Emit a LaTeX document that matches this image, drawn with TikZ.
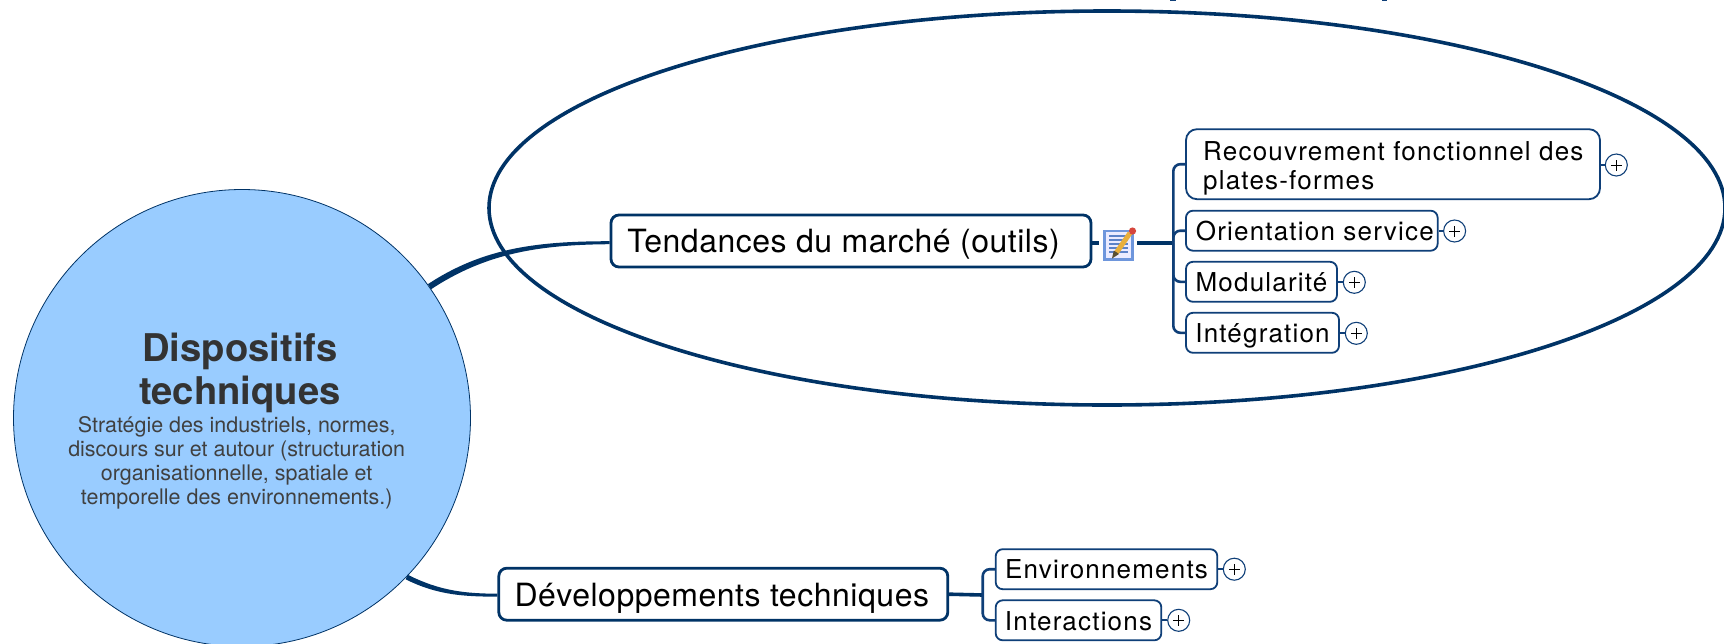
\documentclass[tikz,border=0pt]{standalone}
\usepackage{fontspec}
\setmainfont{TeX Gyre Heros}
\newfontfamily\kidfont[LetterSpace=4.6]{TeX Gyre Heros}
\newfontfamily\midfont[LetterSpace=1.6]{TeX Gyre Heros}
\usetikzlibrary{calc}
\definecolor{navy}{HTML}{003366}
\definecolor{kidline}{HTML}{0F3F78}
\definecolor{hubfill}{HTML}{99CCFF}
\definecolor{hubtext}{HTML}{333333}
\definecolor{subtext}{HTML}{404040}
\tikzset{
  hubnode/.style={circle,draw=navy,line width=0.8pt,fill=hubfill,minimum size=457pt,inner sep=0pt},
  midbox/.style={rectangle,rounded corners=8pt,draw=navy,line width=2.8pt,fill=white,inner sep=0pt,font=\midfont\fontsize{32}{36}\selectfont,text=black,text depth=0pt},
  kidbox/.style={rectangle,rounded corners=7pt,draw=kidline,line width=1.8pt,fill=white,inner sep=0pt,font=\kidfont\fontsize{26}{29.3}\selectfont,text=black,text depth=0pt},
  branch/.style={draw=kidline,line width=2.6pt,rounded corners=7pt},
  trunk/.style={draw=navy,line width=3.6pt},
  stub/.style={draw=kidline,line width=2pt},
  plusnode/.style={circle,draw=kidline,line width=1.1pt,fill=white,minimum size=22pt,inner sep=0pt,
    path picture={\draw[black,line width=0.9pt] ($(path picture bounding box.center)+(-5.5pt,0)$) -- ($(path picture bounding box.center)+(5.5pt,0)$)
      ($(path picture bounding box.center)+(0,-5.5pt)$) -- ($(path picture bounding box.center)+(0,5.5pt)$);}},
  bubble/.style={draw=navy,line width=3.6pt},
}
\begin{document}
\begin{tikzpicture}[x=1pt,y=-1pt]
\path[use as bounding box,clip] (0,0) rectangle (1724,643);
\fill[white] (0,0) rectangle (1724,643);
% clipped text fragments at the top edge
\fill[kidline] (1170,0) rectangle (1175.5,1.3);
\fill[kidline] (1381.5,0) rectangle (1387,1.3);
% bubble
\draw[bubble] (1107,208) ellipse [x radius=618pt,y radius=197pt];
% hub
\node[hubnode] (hub) at (242,418) {};
\node[anchor=base,align=center,text=hubtext,font=\bfseries\fontsize{38.2}{42.3}\selectfont] (hubtitle) at (240,404) {Dispositifs\\techniques};
\node[anchor=base,align=center,text=subtext,font=\fontsize{21.45}{24}\selectfont] (hubsub) at (236.7,504.3) {Stratégie des industriels, normes,\\discours sur et autour (structuration\\organisationnelle, spatiale et\\temporelle des environnements.)};
% main topics
\node[midbox,minimum width=480pt,minimum height=52pt,text height=23.4pt] (tend) at (851,241) {Tendances du marché (outils)\kern15pt};
\node[midbox,minimum width=449pt,minimum height=52pt,text height=23.6pt] (dev) at (723.3,594.2) {Développements techniques\kern3pt};
% children of tendances
\node[kidbox,rounded corners=11pt,minimum width=414pt,minimum height=70pt] (rec) at (1393,164.2) {};
\node[anchor=base west,inner sep=0pt,align=left,text=black,font=\kidfont\fontsize{26}{29.3}\selectfont] (rectext) at (1203,189.3) {Recouvrement fonctionnel des\\plates-formes};
\node[kidbox,minimum width=251.7pt,minimum height=40pt,text height=19pt] (ori) at (1311.8,230.7) {\kern6pt Orientation service};
\node[kidbox,minimum width=151pt,minimum height=40pt,text height=19pt] (modu) at (1261.5,281.8) {Modularité};
\node[kidbox,minimum width=153pt,minimum height=40pt,text height=19pt] (inte) at (1262.5,332.8) {Intégration};
% children of developpements
\node[kidbox,minimum width=221.6pt,minimum height=40pt,text height=18pt] (env) at (1106.5,569.2) {Environnements};
\node[kidbox,minimum width=165.6pt,minimum height=40pt,text height=19.5pt] (itr) at (1078.5,620.3) {Interactions};
% plus markers
\node[plusnode] (prec) at (1616.3,165) {};
\node[plusnode] (pori) at (1454.6,231) {};
\node[plusnode] (pmod) at (1354.3,282.3) {};
\node[plusnode] (pint) at (1356.3,333.3) {};
\node[plusnode] (penv) at (1234.3,569.2) {};
\node[plusnode] (pitr) at (1178.7,620.3) {};
\foreach \a/\b in {rec/prec,ori/pori,modu/pmod,inte/pint,env/penv,itr/pitr}{\draw[stub] (\b.west) -- (\b.west-|\a.east);}
% icon
\node[rectangle,draw=none,inner sep=0pt,minimum width=30pt,minimum height=31pt] (icon) at (1118,244.5) {};
\coordinate (forka) at (1173.3,242.7);
\coordinate (forkb) at (982.7,595);
\draw[trunk] ($(tend.east)+(0,1.7)$) -- ($(icon.west)+(-4,0)-(0,1.8)$);
\draw[trunk] ($(icon.east)+(4,0)-(0,1.8)$) -- (forka);
\draw[branch] (rec.west) -| (forka) |- (inte.west);
\draw[branch] (ori.west) -| (forka);
\draw[branch] (modu.west) -| (forka);
\draw[trunk] (dev.east) -- (forkb);
\draw[branch] (env.west) -| (forkb) |- (itr.west);
% connectors from hub
\fill[navy] ($(hub.35)+(-1.5,-2.6)$) .. controls (484,247) and (540,241.3) .. ($(tend.west)+(0,0.2)$) -- ($(tend.west)+(0,3.2)$) .. controls (540,244.7) and (486,253) .. ($(hub.35)+(1.5,2.6)$) -- cycle;
\fill[navy] ($(hub.-44)+(1,-2.3)$) .. controls (440,591) and (465,593.5) .. ($(dev.west)+(0,-0.5)$) -- ($(dev.west)+(0,2.5)$) .. controls (465,596.5) and (438,595.5) .. ($(hub.-44)+(-1,2.3)$) -- cycle;
% note icon artwork
\fill[blue!8!white] (1103.5,230) rectangle (1133,260);
\draw[color={rgb,255:red,110;green,150;blue,220},line width=2.4pt] (1104.5,231) rectangle (1132.5,259.5);
\foreach \y in {236,240,244,248,252}{\draw[color={rgb,255:red,92;green,130;blue,200},line width=1.3pt] (1109,\y) -- (1128,\y);}
\draw[color={rgb,255:red,232;green,175;blue,60},line width=5pt] (1116.5,252.5) -- (1130,233);
\fill[color={rgb,255:red,90;green,80;blue,50}] (1112,258.5) -- (1113.8,250.5) -- (1119,254) -- cycle;
\fill[color={rgb,255:red,214;green,70;blue,60}] (1132.5,231) circle [radius=3.6pt];
\end{tikzpicture}
\end{document}
